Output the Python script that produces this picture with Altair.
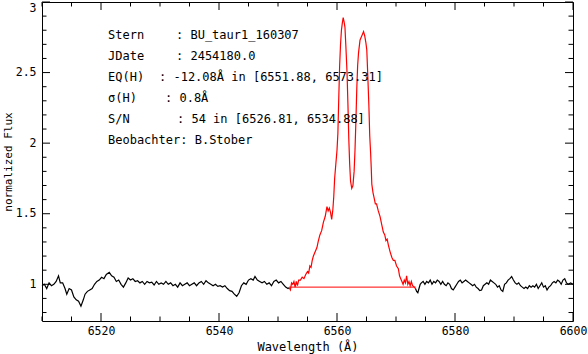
import altair as alt
import pandas as pd

# ---------------- data ----------------
left_wl = [6510.0, 6510.4, 6510.8, 6511.2, 6511.6, 6512.0, 6512.4, 6512.8, 6513.1, 6513.5,
           6513.9, 6514.2, 6514.6, 6515.0, 6515.4, 6515.8, 6516.2, 6516.6, 6517.0, 6517.3,
           6517.7, 6518.1, 6518.5, 6518.9, 6519.3, 6519.7, 6520.1, 6520.5, 6520.9, 6521.4,
           6521.8, 6522.2, 6522.6, 6523.0, 6523.4, 6523.8, 6524.2, 6524.6, 6525.0, 6525.4,
           6525.8, 6526.2, 6526.6, 6527.0, 6527.4, 6527.8, 6528.2, 6528.6, 6529.0, 6529.4,
           6529.8, 6530.2, 6530.6, 6531.0, 6531.4, 6531.8, 6532.2, 6532.6, 6533.0, 6533.4,
           6533.8, 6534.2, 6534.6, 6535.0, 6535.4, 6535.8, 6536.2, 6536.6, 6537.0, 6537.4,
           6537.8, 6538.2, 6538.6, 6539.0, 6539.4, 6539.8, 6540.2, 6540.6, 6541.0, 6541.4,
           6541.8, 6542.2, 6542.6, 6543.0, 6543.4, 6543.8, 6544.2, 6544.6, 6545.0, 6545.4,
           6545.8, 6546.1, 6546.5, 6546.9, 6547.3, 6547.7, 6548.1, 6548.5, 6548.9, 6549.3,
           6549.7, 6550.1, 6550.5, 6550.9, 6551.3, 6551.7, 6551.9]
left_flux = [0.99, 1.00, 0.97, 1.01, 0.99, 1.00, 1.02, 1.06, 1.01, 1.01,
             0.97, 0.93, 0.97, 0.96, 0.91, 0.89, 0.88, 0.845, 0.89, 0.93,
             0.95, 0.96, 0.97, 1.00, 1.02, 1.03, 1.05, 1.04, 1.07, 1.085,
             1.06, 1.05, 1.02, 1.03, 1.00, 0.98, 1.01, 1.045, 1.03, 1.04,
             1.02, 1.025, 1.01, 1.02, 1.00, 1.02, 1.01, 1.015, 0.995, 1.02,
             1.00, 1.01, 1.00, 1.02, 1.00, 1.01, 0.99, 1.00, 0.98, 1.01,
             0.99, 1.00, 1.01, 0.99, 1.00, 1.01, 0.99, 1.01, 1.02, 1.00,
             1.025, 1.01, 1.00, 0.99, 1.00, 0.985, 0.99, 0.98, 0.99, 0.97,
             0.955, 0.95, 0.93, 0.915, 0.94, 0.99, 1.01, 1.00, 1.03, 1.04,
             1.03, 1.055, 1.03, 1.02, 1.01, 1.02, 1.00, 1.01, 0.99, 1.02,
             1.03, 1.01, 1.02, 1.00, 0.98, 0.97, 0.975]

line_wl = [6551.9, 6552.1, 6552.3, 6552.5, 6552.7, 6552.9, 6553.1, 6553.3, 6553.5, 6553.8,
           6554.1, 6554.4, 6554.7, 6555.0, 6555.2, 6555.4, 6555.6, 6555.8, 6556.0, 6556.3,
           6556.6, 6556.8, 6557.1, 6557.4, 6557.7, 6558.0, 6558.3, 6558.5, 6558.7, 6558.9,
           6559.1, 6559.3, 6559.45, 6559.6, 6559.8, 6560.0, 6560.15, 6560.3, 6560.45, 6560.6,
           6560.75, 6560.9, 6561.05, 6561.2, 6561.35, 6561.5, 6561.7, 6561.85, 6562.0, 6562.15,
           6562.3, 6562.5, 6562.7, 6562.9, 6563.05, 6563.2, 6563.35, 6563.5, 6563.65, 6563.9,
           6564.1, 6564.3, 6564.5, 6564.7, 6564.9, 6565.05, 6565.2, 6565.4, 6565.55, 6565.7,
           6565.8, 6565.9, 6566.1, 6566.3, 6566.5, 6566.7, 6567.0, 6567.3, 6567.6, 6567.85,
           6568.1, 6568.3, 6568.5, 6568.7, 6569.0, 6569.3, 6569.55, 6569.8, 6570.1, 6570.4,
           6570.6, 6570.8, 6571.0, 6571.2, 6571.4, 6571.6, 6571.8, 6572.0, 6572.2, 6572.4,
           6572.6, 6572.8, 6573.0, 6573.3]
line_flux = [0.975, 0.96, 1.01, 1.00, 1.02, 0.98, 1.02, 0.99, 1.03, 1.03,
             1.05, 1.04, 1.07, 1.09, 1.08, 1.13, 1.12, 1.17, 1.20, 1.23,
             1.26, 1.30, 1.35, 1.38, 1.44, 1.48, 1.55, 1.52, 1.54, 1.51,
             1.46, 1.53, 1.62, 1.75, 1.85, 1.95, 2.07, 2.32, 2.55, 2.70,
             2.80, 2.85, 2.89, 2.86, 2.82, 2.69, 2.50, 2.28, 2.03, 1.85,
             1.73, 1.68, 1.70, 1.80, 1.95, 2.15, 2.38, 2.55, 2.64, 2.73,
             2.75, 2.77, 2.79, 2.76, 2.71, 2.66, 2.50, 2.27, 2.05, 1.93,
             1.83, 1.71, 1.65, 1.61, 1.57, 1.57, 1.52, 1.48, 1.42, 1.37,
             1.35, 1.31, 1.32, 1.28, 1.23, 1.19, 1.17, 1.17, 1.13, 1.11,
             1.06, 1.04, 1.02, 1.00, 1.03, 1.01, 1.06, 1.00, 1.02, 0.99,
             1.02, 0.99, 0.985, 0.97]

right_wl = [6573.3, 6573.5, 6573.7, 6573.9, 6574.1, 6574.3, 6574.6, 6574.9, 6575.2, 6575.5,
            6575.8, 6576.1, 6576.4, 6576.7, 6577.0, 6577.3, 6577.6, 6577.9, 6578.2, 6578.5,
            6578.8, 6579.1, 6579.4, 6579.7, 6580.0, 6580.3, 6580.6, 6580.9, 6581.2, 6581.5,
            6581.8, 6582.1, 6582.4, 6582.7, 6583.0, 6583.3, 6583.6, 6583.9, 6584.2, 6584.5,
            6584.8, 6585.1, 6585.4, 6585.7, 6586.0, 6586.3, 6586.6, 6586.9, 6587.2, 6587.5,
            6587.8, 6588.1, 6588.4, 6588.7, 6589.0, 6589.3, 6589.6, 6589.9, 6590.2, 6590.5,
            6590.8, 6591.1, 6591.4, 6591.7, 6592.0, 6592.3, 6592.6, 6592.9, 6593.2, 6593.5,
            6593.8, 6594.1, 6594.4, 6594.7, 6595.0, 6595.3, 6595.6, 6595.9, 6596.2, 6596.5,
            6596.8, 6597.1, 6597.4, 6597.7, 6598.0, 6598.3, 6598.6, 6598.9, 6599.2, 6599.6,
            6600.0]
right_flux = [0.97, 0.95, 0.94, 0.97, 1.00, 1.01, 1.02, 1.00, 1.02, 1.01,
              1.03, 1.00, 1.02, 1.01, 1.03, 1.02, 1.00, 1.02, 1.00, 0.99,
              1.01, 1.00, 0.97, 0.96, 0.98, 1.00, 1.02, 1.03, 1.01, 1.02,
              1.03, 1.02, 1.01, 1.00, 0.99, 1.00, 0.98, 0.97, 0.955, 0.96,
              0.99, 1.00, 1.01, 1.00, 1.03, 1.02, 1.01, 1.00, 0.98, 0.99,
              0.96, 0.95, 1.00, 1.01, 1.03, 1.04, 1.055, 1.03, 1.01, 1.00,
              1.01, 0.99, 0.98, 0.97, 0.98, 0.97, 0.99, 0.98, 0.99, 0.98,
              1.00, 0.97, 0.99, 1.01, 0.98, 0.99, 0.96, 0.98, 0.99, 1.01,
              1.02, 1.01, 1.03, 1.02, 1.00, 1.03, 1.04, 1.01, 1.00, 1.01,
              1.00]

eq_window = [6551.88, 6573.31]
continuum = [0.98, 0.98]

x_labels = [6520, 6540, 6560, 6580, 6600]
x_minor = [6510, 6515, 6525, 6530, 6535, 6545, 6550, 6555, 6565, 6570, 6575, 6585, 6590, 6595]
y_labels = [1, 1.5, 2, 2.5, 3]
y_minor = [0.8, 0.9, 1.1, 1.2, 1.3, 1.4, 1.6, 1.7, 1.8, 1.9, 2.1, 2.2, 2.3, 2.4, 2.6, 2.7, 2.8, 2.9]

info_labels = ["Stern", "JDate", "EQ(H)", "σ(H)", "S/N", "Beobachter: B.Stober"]
info_values = [": BU_taur1_160307", ": 2454180.0", ": -12.08Å in [6551.88, 6573.31]",
               ": 0.8Å", ": 54 in [6526.81, 6534.88]", ""]

# ---------------- layout / style ----------------
W, H = 531, 319
FONT = "DejaVu Sans Mono"
MAJ, MIN = 8, 4.5

spec = pd.concat([
    pd.DataFrame({"wl": left_wl, "flux": left_flux, "part": "left"}),
    pd.DataFrame({"wl": line_wl, "flux": line_flux, "part": "line"}),
    pd.DataFrame({"wl": right_wl, "flux": right_flux, "part": "right"}),
], ignore_index=True)
base_df = pd.DataFrame({"wl": eq_window, "flux": continuum})

xsc = alt.Scale(domain=[6510, 6600], nice=False, zero=False)
ysc = alt.Scale(domain=[0.74, 3.0], nice=False, zero=False)

xax = alt.Axis(title="Wavelength (Å)", values=x_labels, format="d", ticks=False, domain=False,
               grid=False, labelFlush=False, labelOverlap=False, labelBound=False,
               labelFont=FONT, labelFontSize=11.5, labelColor="black", labelPadding=4,
               titleFont=FONT, titleFontSize=12, titleFontWeight="normal", titleColor="black",
               titlePadding=5)
yax = alt.Axis(title="normalized Flux", values=y_labels, format="~g", ticks=False, domain=False,
               grid=False, labelFlush=True, labelOverlap=False, labelBound=False,
               labelFont=FONT, labelFontSize=11.5, labelColor="black", labelPadding=6,
               titleFont=FONT, titleFontSize=11, titleFontWeight="normal", titleColor="black",
               titlePadding=2)

spectrum = alt.Chart(spec).mark_line(strokeWidth=1.2, interpolate="linear").encode(
    x=alt.X("wl:Q", scale=xsc, axis=xax),
    y=alt.Y("flux:Q", scale=ysc, axis=yax),
    color=alt.Color("part:N", scale=alt.Scale(domain=["left", "line", "right"],
                                              range=["black", "#ff0000", "black"]), legend=None),
    order="wl:Q",
)

baseline = alt.Chart(base_df).mark_line(color="#ff0000", strokeWidth=1).encode(
    x=alt.X("wl:Q", scale=xsc, axis=xax),
    y=alt.Y("flux:Q", scale=ysc, axis=yax),
)

def xticks(vals, length):
    df = pd.DataFrame({"wl": vals})
    bottom = alt.Chart(df).mark_rule(color="black", strokeWidth=1).encode(
        x=alt.X("wl:Q", scale=xsc, axis=xax), y=alt.value(H), y2=alt.value(H - length))
    top = alt.Chart(df).mark_rule(color="black", strokeWidth=1).encode(
        x=alt.X("wl:Q", scale=xsc, axis=xax), y=alt.value(0), y2=alt.value(length))
    return [bottom, top]

def yticks(vals, length):
    df = pd.DataFrame({"flux": vals})
    left = alt.Chart(df).mark_rule(color="black", strokeWidth=1).encode(
        y=alt.Y("flux:Q", scale=ysc, axis=yax), x=alt.value(0), x2=alt.value(length))
    right = alt.Chart(df).mark_rule(color="black", strokeWidth=1).encode(
        y=alt.Y("flux:Q", scale=ysc, axis=yax), x=alt.value(W), x2=alt.value(W - length))
    return [left, right]

ticks = xticks(x_labels, MAJ) + xticks(x_minor, MIN) + yticks(y_labels, MAJ) + yticks(y_minor, MIN)

label_x = 66
value_x = [134, 134, 117, 123, 135, 0]
row_y = [33, 54, 75, 96, 117, 138]
texts = []
for i, (lab, val) in enumerate(zip(info_labels, info_values)):
    texts.append(alt.Chart(pd.DataFrame({"s": [lab]})).mark_text(
        align="left", baseline="middle", font=FONT, fontSize=12, color="black").encode(
        x=alt.value(label_x), y=alt.value(row_y[i]), text="s:N"))
    if val:
        texts.append(alt.Chart(pd.DataFrame({"s": [val]})).mark_text(
            align="left", baseline="middle", font=FONT, fontSize=12, color="black").encode(
            x=alt.value(value_x[i]), y=alt.value(row_y[i]), text="s:N"))

chart = alt.layer(spectrum, baseline, *ticks, *texts).properties(
    width=W, height=H,
    padding={"left": 42, "top": 2, "right": 15, "bottom": 33},
    autosize=alt.AutoSizeParams(type="none"),
    background="white",
).configure_view(stroke="black", strokeWidth=1)

chart.save("out.html", embed_options={"renderer": "svg", "actions": False})
